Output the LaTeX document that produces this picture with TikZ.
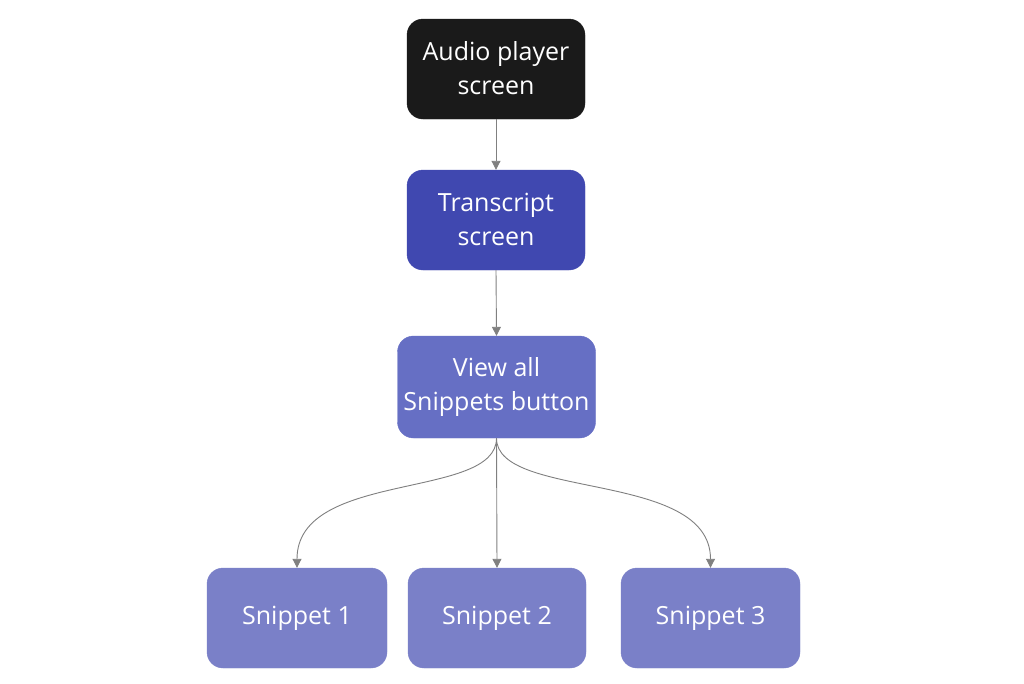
\documentclass[tikz,border=0pt]{standalone}
\usepackage{fontspec}
\setmainfont{Open Sans}
\usetikzlibrary{arrows.meta}
\definecolor{cblack}{RGB}{26,26,26}
\definecolor{cdark}{RGB}{64,72,176}
\definecolor{cmid}{RGB}{102,111,196}
\definecolor{clight}{RGB}{122,128,200}
\definecolor{cline}{RGB}{128,128,128}
\tikzset{
  box/.style={rounded corners=16pt, minimum width=178pt, minimum height=100pt,
    text=white, align=center, inner sep=0pt,
    font=\fontsize{25}{34}\selectfont},
  link/.style={draw=cline, line width=0.9pt, -{Triangle[length=9pt,width=9pt]}},
}
\begin{document}
\begin{tikzpicture}[x=1pt,y=-1pt]
\useasboundingbox (0,0) rectangle (1024,683);
\fill[white] (0,0) rectangle (1024,683);
\node[box, fill=cblack, draw=cblack] (audio) at (496,69) {\raisebox{1.5pt}{Audio player}\\\raisebox{1.5pt}{screen}};
\node[box, fill=cdark, draw=cdark] (trans) at (496,220) {\raisebox{1.5pt}{Transcript}\\\raisebox{1.5pt}{screen}};
\node[box, fill=cmid, draw=cmid, minimum width=198pt, minimum height=102pt] (view) at (496.5,387) {View all\\Snippets button};
\node[box, fill=clight, draw=clight, minimum width=180pt] (s1) at (297,618) {Snippet 1};
\node[box, fill=clight, draw=clight] (s2) at (497,618) {Snippet 2};
\node[box, fill=clight, draw=clight, minimum width=179pt] (s3) at (710.5,618) {Snippet 3};
\draw[link] (audio.south) -- (trans.north);
\draw[link] (trans.south) -- (view.north);
\draw[link] (view.south) .. controls ++(0,62) and ([yshift=98pt]s1.north) .. (s1.north);
\draw[link] (view.south) -- (s2.north);
\draw[link] (view.south) .. controls ++(0,62) and ([yshift=98pt]s3.north) .. (s3.north);
\end{tikzpicture}
\end{document}
